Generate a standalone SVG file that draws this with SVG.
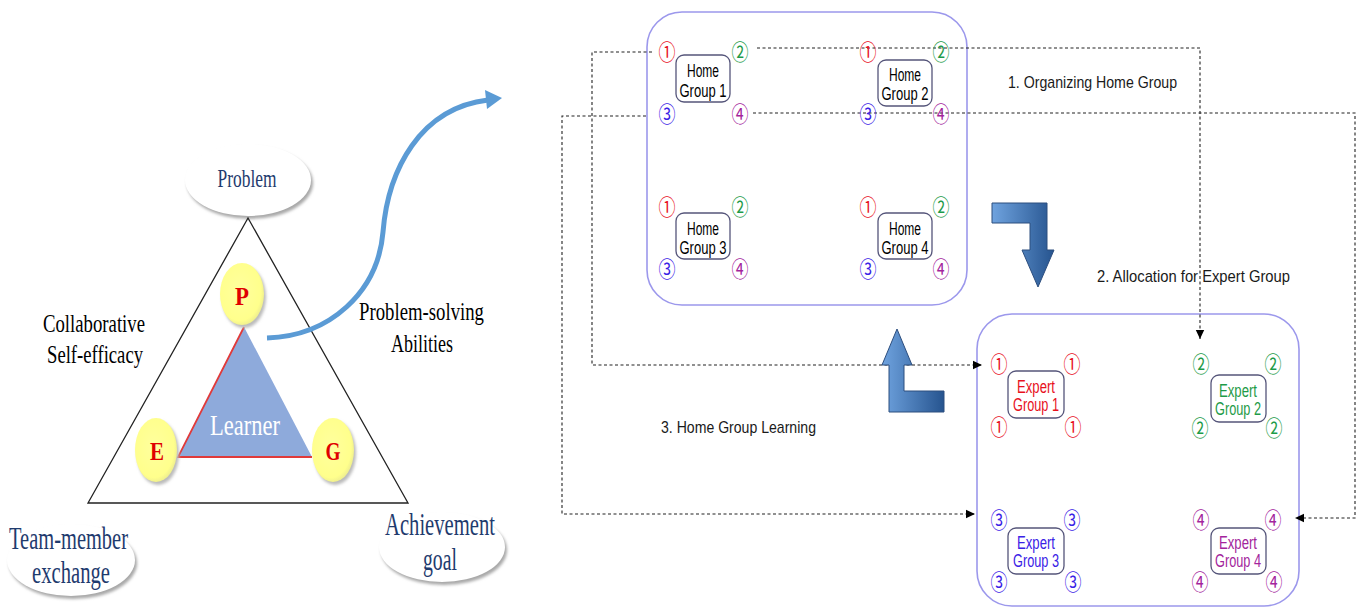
<svg xmlns="http://www.w3.org/2000/svg" width="1360" height="608" viewBox="0 0 1360 608">
<defs>
<style>
.ser{font-family:"Liberation Serif","Times New Roman",serif}
.lbl{font-family:"Liberation Serif",serif;font-size:26px;fill:#000}
.blu{font-family:"Liberation Serif",serif;fill:#1F3B6E}
.pe{font-family:"Liberation Serif",serif;font-size:26px;font-weight:bold;fill:#E00000;text-anchor:middle}
.sans{font-family:"Liberation Sans",Arial,sans-serif;font-size:18px;text-anchor:middle}
.step{font-family:"Liberation Sans",Arial,sans-serif;font-size:17px;fill:#1a1a1a}
.n{font-family:"Noto Sans CJK KR","Noto Sans CJK SC",sans-serif;font-size:22px;text-anchor:middle;dominant-baseline:central}
.c1{fill:#E8101C}.c2{fill:#1E9B48}.c3{fill:#3A22E6}.c4{fill:#A3249C}
.gbox{fill:#fff;stroke:#55557a;stroke-width:1.3}
.big{fill:none;stroke:#9C98EC;stroke-width:1.6}
.dash{fill:none;stroke:#222;stroke-width:1.1;stroke-dasharray:3 2.5}
.blk{fill:url(#bg);stroke:#2D4E7E;stroke-width:1}
</style>
<filter id="sh" x="-20%" y="-20%" width="140%" height="140%"><feGaussianBlur stdDeviation="1.8"/></filter>
<linearGradient id="bg" x1="0" y1="0" x2="1" y2="0"><stop offset="0" stop-color="#6FA3DF"/><stop offset="1" stop-color="#26548F"/></linearGradient>
<radialGradient id="yg" cx="0.45" cy="0.45" r="0.6"><stop offset="0" stop-color="#FFFF9E"/><stop offset="0.8" stop-color="#FFFF8C"/><stop offset="1" stop-color="#E8E890"/></radialGradient>
<marker id="ah" markerWidth="10" markerHeight="10" refX="9" refY="5" orient="auto" markerUnits="userSpaceOnUse"><path d="M0,0.8 L9,5 L0,9.2 Z" fill="#000"/></marker>
</defs>
<rect width="1360" height="608" fill="#fff"/>

<!-- Left: PEG model -->
<g id="problem-ellipse">
<ellipse cx="250" cy="183" rx="63" ry="36" fill="#a8a8a8" filter="url(#sh)"/>
<ellipse cx="248" cy="180" rx="63" ry="36" fill="#fff"/>
<text class="blu" x="247" y="187" font-size="26" text-anchor="middle" textLength="59" lengthAdjust="spacingAndGlyphs">Problem</text>
</g>
<g id="outer-triangle">
<polygon points="248,218 408,503 88,503" fill="none" stroke="#222" stroke-width="1.3"/>
</g>
<g id="learner">
<polygon points="244,327 312,457 178,457" fill="#8EAADB"/>
<polyline points="312,457 178,457 244,327" fill="none" stroke="#E03A3A" stroke-width="1.8"/>
<text class="ser" x="245" y="435" font-size="30" fill="#fff" text-anchor="middle" textLength="70" lengthAdjust="spacingAndGlyphs">Learner</text>
</g>
<g id="node-P">
<ellipse cx="244" cy="297" rx="22" ry="31" fill="#bbb" filter="url(#sh)"/>
<ellipse cx="242" cy="294" rx="22" ry="31" fill="url(#yg)"/>
<text class="pe" x="242" y="305" textLength="14" lengthAdjust="spacingAndGlyphs">P</text>
</g>
<g id="node-E">
<ellipse cx="158" cy="453" rx="21" ry="32" fill="#bbb" filter="url(#sh)"/>
<ellipse cx="156" cy="450" rx="21" ry="32" fill="url(#yg)"/>
<text class="pe" x="157" y="460" textLength="14" lengthAdjust="spacingAndGlyphs">E</text>
</g>
<g id="node-G">
<ellipse cx="335" cy="453" rx="21" ry="32" fill="#bbb" filter="url(#sh)"/>
<ellipse cx="333" cy="450" rx="21" ry="32" fill="url(#yg)"/>
<text class="pe" x="333" y="460" textLength="15" lengthAdjust="spacingAndGlyphs">G</text>
</g>
<g id="label-collab">
<text class="lbl" x="43" y="332" textLength="102" lengthAdjust="spacingAndGlyphs">Collaborative</text>
<text class="lbl" x="47" y="363" textLength="96" lengthAdjust="spacingAndGlyphs">Self-efficacy</text>
</g>
<g id="label-psa">
<text class="lbl" x="359" y="320" textLength="125" lengthAdjust="spacingAndGlyphs">Problem-solving</text>
<text class="lbl" x="391" y="352" textLength="62" lengthAdjust="spacingAndGlyphs">Abilities</text>
</g>
<g id="team-member">
<ellipse cx="73" cy="563" rx="64" ry="36" fill="#a8a8a8" filter="url(#sh)"/>
<ellipse cx="71" cy="560" rx="64" ry="36" fill="#fff"/>
<text class="blu" x="9" y="549" font-size="32" textLength="119" lengthAdjust="spacingAndGlyphs">Team-member</text>
<text class="blu" x="32" y="583" font-size="32" textLength="78" lengthAdjust="spacingAndGlyphs">exchange</text>
</g>
<g id="achievement">
<ellipse cx="444" cy="550" rx="63" ry="35" fill="#a8a8a8" filter="url(#sh)"/>
<ellipse cx="442" cy="547" rx="63" ry="35" fill="#fff"/>
<text class="blu" x="385" y="535" font-size="32" textLength="110" lengthAdjust="spacingAndGlyphs">Achievement</text>
<text class="blu" x="423" y="570" font-size="32" textLength="34" lengthAdjust="spacingAndGlyphs">goal</text>
</g>

<!-- Right: Jigsaw -->
<g id="home-box"><rect class="big" x="647" y="12" width="320" height="293" rx="35"/></g>
<g id="expert-box"><rect class="big" x="977" y="314" width="322" height="292" rx="35"/></g>

<g id="connectors">
<path d="M267,338 C330,336 378,292 383,232 C388,170 420,108 488,100" fill="none" stroke="#5B9BD5" stroke-width="5"/>
<polygon points="485,90 502,98 487,109" fill="#5B9BD5"/>
<polyline class="dash" points="652,52 592,52 592,365 982,365" marker-end="url(#ah)"/>
<polyline class="dash" points="646,116 562,116 562,514 975,514" marker-end="url(#ah)"/>
<polyline class="dash" points="757,48 1200,48 1200,339" marker-end="url(#ah)"/>
<polyline class="dash" points="753,113 1355,113 1355,518 1295,518" marker-end="url(#ah)"/>
<polygon class="blk" points="992,203 1047,203 1047,250 1054,250 1038,287 1022,250 1030,250 1030,223 992,223"/>
<polygon class="blk" points="897,329 912,365 904,365 904,391 944,391 944,412 889,412 889,365 882,365"/>
</g>

<g id="home-group-1">
<rect class="gbox" x="676" y="55" width="54" height="47" rx="8"/>
<text class="sans" x="703" y="77" textLength="32" lengthAdjust="spacingAndGlyphs">Home</text>
<text class="sans" x="703" y="97" textLength="47" lengthAdjust="spacingAndGlyphs">Group 1</text>
<text class="n c1" x="667" y="50" textLength="17" lengthAdjust="spacingAndGlyphs">①</text>
<text class="n c2" x="740" y="50" textLength="17" lengthAdjust="spacingAndGlyphs">②</text>
<text class="n c3" x="667" y="112" textLength="17" lengthAdjust="spacingAndGlyphs">③</text>
<text class="n c4" x="740" y="112" textLength="17" lengthAdjust="spacingAndGlyphs">④</text>
</g>
<g id="home-group-2">
<rect class="gbox" x="878" y="60" width="54" height="46" rx="8"/>
<text class="sans" x="905" y="81" textLength="32" lengthAdjust="spacingAndGlyphs">Home</text>
<text class="sans" x="905" y="100" textLength="47" lengthAdjust="spacingAndGlyphs">Group 2</text>
<text class="n c1" x="868" y="50" textLength="17" lengthAdjust="spacingAndGlyphs">①</text>
<text class="n c2" x="941" y="50" textLength="17" lengthAdjust="spacingAndGlyphs">②</text>
<text class="n c3" x="868" y="112" textLength="17" lengthAdjust="spacingAndGlyphs">③</text>
<text class="n c4" x="941" y="112" textLength="17" lengthAdjust="spacingAndGlyphs">④</text>
</g>
<g id="home-group-3">
<rect class="gbox" x="676" y="213" width="54" height="46" rx="8"/>
<text class="sans" x="703" y="235" textLength="32" lengthAdjust="spacingAndGlyphs">Home</text>
<text class="sans" x="703" y="254" textLength="47" lengthAdjust="spacingAndGlyphs">Group 3</text>
<text class="n c1" x="667" y="205" textLength="17" lengthAdjust="spacingAndGlyphs">①</text>
<text class="n c2" x="740" y="205" textLength="17" lengthAdjust="spacingAndGlyphs">②</text>
<text class="n c3" x="667" y="267" textLength="17" lengthAdjust="spacingAndGlyphs">③</text>
<text class="n c4" x="740" y="267" textLength="17" lengthAdjust="spacingAndGlyphs">④</text>
</g>
<g id="home-group-4">
<rect class="gbox" x="878" y="213" width="54" height="46" rx="8"/>
<text class="sans" x="905" y="235" textLength="32" lengthAdjust="spacingAndGlyphs">Home</text>
<text class="sans" x="905" y="254" textLength="47" lengthAdjust="spacingAndGlyphs">Group 4</text>
<text class="n c1" x="868" y="205" textLength="17" lengthAdjust="spacingAndGlyphs">①</text>
<text class="n c2" x="941" y="205" textLength="17" lengthAdjust="spacingAndGlyphs">②</text>
<text class="n c3" x="868" y="267" textLength="17" lengthAdjust="spacingAndGlyphs">③</text>
<text class="n c4" x="941" y="267" textLength="17" lengthAdjust="spacingAndGlyphs">④</text>
</g>

<g id="expert-group-1">
<rect class="gbox" x="1008" y="371" width="56" height="47" rx="8"/>
<text class="sans c1" x="1036" y="393" textLength="38" lengthAdjust="spacingAndGlyphs">Expert</text>
<text class="sans c1" x="1036" y="411" textLength="46" lengthAdjust="spacingAndGlyphs">Group 1</text>
<text class="n c1" x="999" y="362" textLength="17" lengthAdjust="spacingAndGlyphs">①</text>
<text class="n c1" x="1072" y="362" textLength="17" lengthAdjust="spacingAndGlyphs">①</text>
<text class="n c1" x="999" y="425" textLength="17" lengthAdjust="spacingAndGlyphs">①</text>
<text class="n c1" x="1073" y="425" textLength="17" lengthAdjust="spacingAndGlyphs">①</text>
</g>
<g id="expert-group-2">
<rect class="gbox" x="1211" y="375" width="55" height="47" rx="8"/>
<text class="sans c2" x="1238" y="397" textLength="38" lengthAdjust="spacingAndGlyphs">Expert</text>
<text class="sans c2" x="1238" y="415" textLength="46" lengthAdjust="spacingAndGlyphs">Group 2</text>
<text class="n c2" x="1201" y="362" textLength="17" lengthAdjust="spacingAndGlyphs">②</text>
<text class="n c2" x="1273" y="362" textLength="17" lengthAdjust="spacingAndGlyphs">②</text>
<text class="n c2" x="1200" y="426" textLength="17" lengthAdjust="spacingAndGlyphs">②</text>
<text class="n c2" x="1274" y="426" textLength="17" lengthAdjust="spacingAndGlyphs">②</text>
</g>
<g id="expert-group-3">
<rect class="gbox" x="1008" y="528" width="56" height="46" rx="8"/>
<text class="sans c3" x="1036" y="549" textLength="38" lengthAdjust="spacingAndGlyphs">Expert</text>
<text class="sans c3" x="1036" y="567" textLength="46" lengthAdjust="spacingAndGlyphs">Group 3</text>
<text class="n c3" x="999" y="518" textLength="17" lengthAdjust="spacingAndGlyphs">③</text>
<text class="n c3" x="1072" y="518" textLength="17" lengthAdjust="spacingAndGlyphs">③</text>
<text class="n c3" x="999" y="580" textLength="17" lengthAdjust="spacingAndGlyphs">③</text>
<text class="n c3" x="1073" y="580" textLength="17" lengthAdjust="spacingAndGlyphs">③</text>
</g>
<g id="expert-group-4">
<rect class="gbox" x="1211" y="528" width="55" height="46" rx="8"/>
<text class="sans c4" x="1238" y="549" textLength="38" lengthAdjust="spacingAndGlyphs">Expert</text>
<text class="sans c4" x="1238" y="567" textLength="46" lengthAdjust="spacingAndGlyphs">Group 4</text>
<text class="n c4" x="1201" y="518" textLength="17" lengthAdjust="spacingAndGlyphs">④</text>
<text class="n c4" x="1273" y="518" textLength="17" lengthAdjust="spacingAndGlyphs">④</text>
<text class="n c4" x="1200" y="580" textLength="17" lengthAdjust="spacingAndGlyphs">④</text>
<text class="n c4" x="1274" y="580" textLength="17" lengthAdjust="spacingAndGlyphs">④</text>
</g>

<g id="step-labels">
<text class="step" x="1008" y="88" textLength="169" lengthAdjust="spacingAndGlyphs">1. Organizing Home Group</text>
<text class="step" x="1097" y="282" textLength="193" lengthAdjust="spacingAndGlyphs">2. Allocation for Expert Group</text>
<text class="step" x="661" y="433" textLength="155" lengthAdjust="spacingAndGlyphs">3. Home Group Learning</text>
</g>
</svg>
